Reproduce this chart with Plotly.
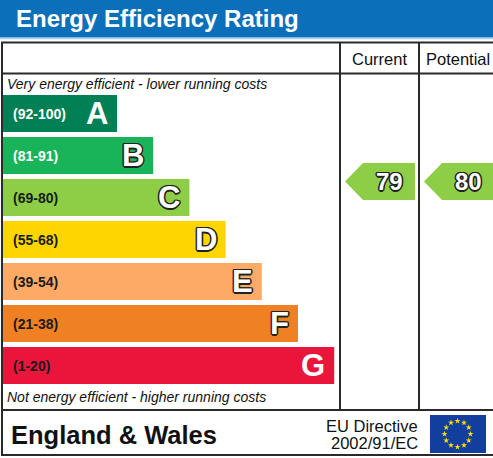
import math
import plotly.graph_objects as go

# EPC bands, top (most efficient) to bottom
bands = ['A', 'B', 'C', 'D', 'E', 'F', 'G']
ranges = ['(92-100)', '(81-91)', '(69-80)', '(55-68)', '(39-54)', '(21-38)', '(1-20)']
band_lo = [92, 81, 69, 55, 39, 21, 1]
band_colors = ['#008054', '#19b459', '#8dce46', '#ffd500', '#fcaa65', '#ef8023', '#e9153b']
range_text_colors = ['white', 'white', '#1a1a1a', '#1a1a1a', '#1a1a1a', '#1a1a1a', '#1a1a1a']
outlined = [False, True, True, True, True, True, False]

current_rating = 79
potential_rating = 80

W, H = 493, 458
FONT = 'Liberation Sans, Arial, sans-serif'
OUTLINE = ('-1px -1px 0 #222, 1px -1px 0 #222, -1px 1px 0 #222, 1px 1px 0 #222, '
           '0 1.5px 0 #222, 0 -1.5px 0 #222, 1.5px 0 0 #222, -1.5px 0 0 #222')
PAD = 3  # annotation inner padding

# layout in pixels
bars_top, bars_bottom = 92.5, 386.5
bar_left = 2
bar_len = [115 + 36.2 * i for i in range(len(bands))]
col_cur = (340, 419)
col_pot = (419, 498)


def band_of(r):
    for i, lo in enumerate(band_lo):
        if r >= lo:
            return i
    return len(bands) - 1


fig = go.Figure()

fig.add_trace(go.Bar(
    y=list(range(len(bands))), x=bar_len, base=bar_left, orientation='h',
    width=0.88, marker=dict(color=band_colors, line=dict(width=0)),
    hoverinfo='skip', showlegend=False,
))


def arrow(col, rating):
    yc = band_of(rating) - 0.38
    h = 0.44
    tip = col[0] + 5
    body = tip + 18
    right = col[1] - 4
    xs = [tip, body, right, right, body, tip]
    ys = [yc, yc - h, yc - h, yc + h, yc + h, yc]
    color = band_colors[band_of(rating)]
    fig.add_trace(go.Scatter(
        x=xs, y=ys, fill='toself', fillcolor=color, mode='lines',
        line=dict(width=0, color=color), hoverinfo='skip', showlegend=False,
    ))
    fig.add_annotation(
        x=(body + right) / 2, y=yc, xref='x', yref='y', text='<b>%d</b>' % rating,
        showarrow=False, font=dict(family=FONT, size=24, color='white', shadow=OUTLINE),
    )


arrow(col_cur, current_rating)
arrow(col_pot, potential_rating)

# EU flag stars
sx = [457.5 + 13 * math.sin(2 * math.pi * k / 12) for k in range(12)]
sy = [434 - 13 * math.cos(2 * math.pi * k / 12) for k in range(12)]
fig.add_trace(go.Scatter(
    x=sx, y=sy, yaxis='y2', mode='markers',
    marker=dict(symbol='star', size=4.5, color='#ffdd00', line=dict(width=0)),
    hoverinfo='skip', showlegend=False,
))

for i, b in enumerate(bands):
    right = bar_left + bar_len[i]
    fig.add_annotation(
        x=14 - PAD, y=i, xref='x', yref='y', xanchor='left', text='<b>%s</b>' % ranges[i],
        showarrow=False, font=dict(family=FONT, size=14, color=range_text_colors[i]),
    )
    fig.add_annotation(
        x=right - 10 + PAD, y=i, xref='x', yref='y', xanchor='right', text='<b>%s</b>' % b,
        showarrow=False,
        font=dict(family=FONT, size=31, color='white', shadow=OUTLINE if outlined[i] else 'none'),
    )

texts = [
    (17 - PAD, 18.5, 'left', '<b>Energy Efficiency Rating</b>', 24, 'white', 'normal'),
    (379.5, 59, 'center', 'Current', 16.5, '#111', 'normal'),
    (458, 59, 'center', 'Potential', 16.5, '#111', 'normal'),
    (8 - PAD, 84, 'left', 'Very energy efficient - lower running costs', 14, '#111', 'italic'),
    (8 - PAD, 397, 'left', 'Not energy efficient - higher running costs', 14, '#111', 'italic'),
    (12 - PAD, 434.5, 'left', '<b>England &amp; Wales</b>', 25.5, '#111', 'normal'),
    (417 + PAD, 425.5, 'right', 'EU Directive', 16.5, '#111', 'normal'),
    (417 + PAD, 443, 'right', '2002/91/EC', 16.5, '#111', 'normal'),
]
for x, y, anc, t, s, c, st in texts:
    fig.add_annotation(
        x=x, y=y, xref='x', yref='y2', xanchor=anc, text=t, showarrow=False,
        font=dict(family=FONT, size=s, color=c, style=st),
    )

line = dict(color='#2a2a2a', width=2)
shapes = [
    dict(type='rect', x0=0, x1=W, y0=0, y1=37.5, fillcolor='#0b6fba', line=dict(width=0)),
    dict(type='line', x0=0, x1=W, y0=38.5, y1=38.5, line=dict(color='#a9cdea', width=1.5)),
    dict(type='rect', x0=2, x1=W + 5, y0=42.5, y1=455, line=line),
    dict(type='line', x0=2, x1=W, y0=73.5, y1=73.5, line=line),
    dict(type='line', x0=col_cur[0], x1=col_cur[0], y0=42.5, y1=410, line=line),
    dict(type='line', x0=col_pot[0], x1=col_pot[0], y0=42.5, y1=410, line=line),
    dict(type='line', x0=2, x1=W, y0=410, y1=410, line=line),
    dict(type='rect', x0=430, x1=486, y0=415, y1=453, fillcolor='#123f9e', line=dict(width=0)),
]
for s in shapes:
    s.update(xref='x', yref='y2', layer='below')
    fig.add_shape(**s)

fig.update_layout(
    width=W, height=H, margin=dict(l=0, r=0, t=0, b=0),
    paper_bgcolor='white', plot_bgcolor='rgba(0,0,0,0)',
    xaxis=dict(range=[0, W], visible=False, fixedrange=True),
    yaxis=dict(range=[6.5, -0.5], visible=False, fixedrange=True,
               domain=[1 - bars_bottom / H, 1 - bars_top / H]),
    yaxis2=dict(range=[H, 0], visible=False, fixedrange=True,
                anchor='x', domain=[0, 1]),
    showlegend=False,
)

fig.write_html('out.html', config={'displayModeBar': False},
               post_script="document.body.style.margin='0';")
